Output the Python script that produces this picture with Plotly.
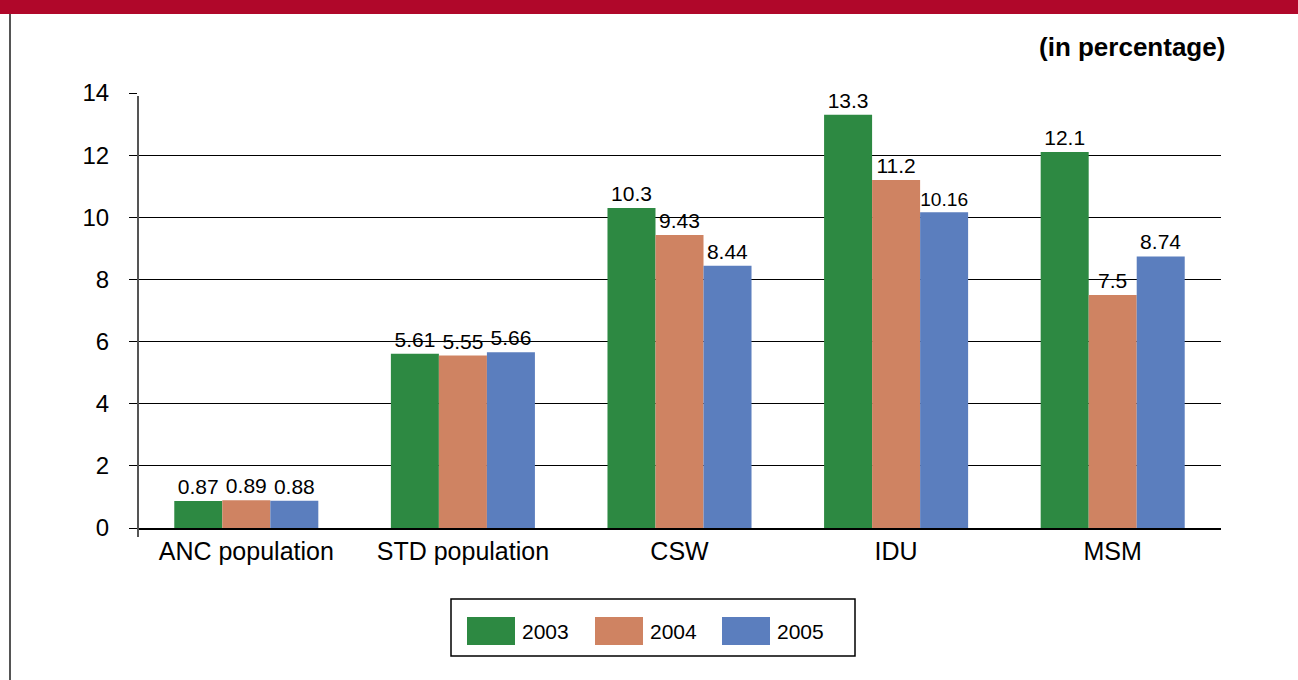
import plotly.graph_objects as go

categories = ["ANC population", "STD population", "CSW", "IDU", "MSM"]
years = ["2003", "2004", "2005"]
values_2003 = [0.87, 5.61, 10.3, 13.3, 12.1]
values_2004 = [0.89, 5.55, 9.43, 11.2, 7.5]
values_2005 = [0.88, 5.66, 8.44, 10.16, 8.74]
labels_2003 = ["0.87", "5.61", "10.3", "13.3", "12.1"]
labels_2004 = ["0.89", "5.55", "9.43", "11.2", "7.5"]
labels_2005 = ["0.88", "5.66", "8.44", "10.16", "8.74"]
y_ticks = [0, 2, 4, 6, 8, 10, 12, 14]

colors = ["#2D8942", "#CF8362", "#5B7EBE"]
FONT = "Liberation Sans, Arial, sans-serif"

fig = go.Figure()
series = [values_2003, values_2004, values_2005]
labels = [labels_2003, labels_2004, labels_2005]
for yr, vals, lab, col in zip(years, series, labels, colors):
    fig.add_trace(go.Bar(
        name=yr, x=categories, y=vals, text=lab,
        textposition="outside", cliponaxis=False,
        textfont=dict(size=21, color="black", family=FONT),
        marker=dict(color=col, line=dict(width=0)),
        showlegend=False,
    ))

W, H = 1298, 680
L, R, T, B = 138, 77, 93, 152
PW, PH = W - L - R, H - T - B


def px(x):
    return (x - L) / PW


def py(y):
    return (H - B - y) / PH


shapes = [
    # red banner
    dict(type="rect", xref="paper", yref="paper",
         x0=px(0), x1=px(W), y0=py(14), y1=py(-5),
         fillcolor="#B0072A", line=dict(width=0), layer="above"),
    # left border
    dict(type="line", xref="paper", yref="paper",
         x0=px(10), x1=px(10), y0=py(H + 2), y1=py(14),
         line=dict(color="#555555", width=2)),
    # y axis line
    dict(type="line", xref="paper", yref="paper", x0=0, x1=0,
         y0=py(537), y1=py(96),
         line=dict(color="#555555", width=2)),
]

# custom legend
shapes.append(dict(type="rect", xref="paper", yref="paper",
                   x0=px(451), x1=px(855), y0=py(656), y1=py(599),
                   line=dict(color="black", width=1.5), fillcolor="white"))
annotations = []
sw_x = [467, 595, 722]
for yr, col, x in zip(years, colors, sw_x):
    shapes.append(dict(type="rect", xref="paper", yref="paper",
                       x0=px(x), x1=px(x + 48), y0=py(645), y1=py(617),
                       fillcolor=col, line=dict(width=0)))
    annotations.append(dict(xref="paper", yref="paper", x=px(x + 53), y=py(631),
                            text=yr, showarrow=False, xanchor="left", yanchor="middle",
                            font=dict(size=21, color="black", family=FONT)))

annotations.append(dict(xref="paper", yref="paper", x=px(1227), y=py(47),
                        text="<b>(in percentage)</b>", showarrow=False,
                        xanchor="right", yanchor="middle",
                        font=dict(size=26, color="black", family=FONT)))

fig.update_layout(
    width=W, height=H, autosize=False,
    margin=dict(l=L, r=R, t=T, b=B, pad=0),
    paper_bgcolor="white", plot_bgcolor="white",
    barmode="group", bargap=0.335, bargroupgap=0,
    font=dict(family=FONT, color="black"),
    shapes=shapes, annotations=annotations,
    xaxis=dict(showgrid=False, showline=True, linecolor="black", linewidth=1.5,
               ticks="", tickfont=dict(size=25, family=FONT, color="black"),
               ticklabelstandoff=0, fixedrange=True),
    yaxis=dict(range=[0, 14], tickvals=y_ticks, showgrid=True, gridcolor="black",
               gridwidth=1, zeroline=False, showline=False,
               ticks="outside", ticklen=8, tickcolor="black", tickwidth=1,
               tickfont=dict(size=24, family=FONT, color="black"),
               ticklabelstandoff=15, fixedrange=True),
)

fig.write_html("out.html", config={"displayModeBar": False},
               post_script="document.body.style.margin='0';document.body.style.padding='0';")
